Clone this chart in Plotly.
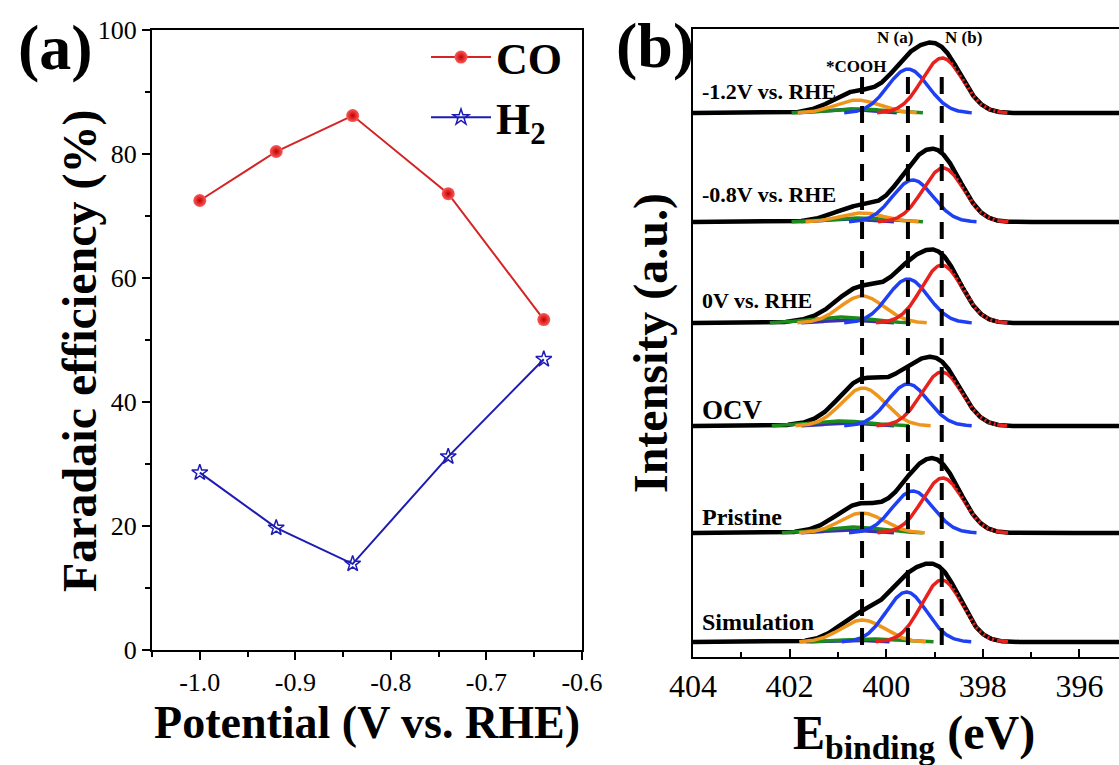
import numpy as np
import plotly.graph_objects as go

# ---------------- Panel (a) data ----------------
potential = [-1.00, -0.92, -0.84, -0.74, -0.64]
fe_co = [72.5, 80.4, 86.2, 73.6, 53.3]
fe_h2 = [28.6, 19.7, 13.9, 31.2, 46.9]

# ---------------- Panel (b) data (fitted XPS N 1s components) ----------------
spectra = ["-1.2V vs. RHE", "-0.8V vs. RHE", "0V vs. RHE", "OCV", "Pristine", "Simulation"]
offsets = [544, 435, 334, 231, 124, 15]
nb_center = [398.84, 398.82, 398.85, 398.85, 398.83, 398.85]
nb_height = [55, 54, 58, 54, 55, 62]
na_center = [399.55, 399.45, 399.55, 399.55, 399.45, 399.58]
na_height = [44, 42, 44, 42, 42, 50]
cooh_center = [400.60, 400.50, 400.50, 400.48, 400.50, 400.49]
cooh_height = [13, 9, 27, 38, 20, 22]
green_center = [400.60, 400.60, 400.95, 400.95, 400.70, 400.30]
green_height = [4, 4, 6, 5, 6, 3]
purple_center = [400.80, 400.80, 400.80, 400.80, 400.80, 400.80]
purple_height = [4, 3, 3, 3, 3, 2]
comp_sigma = {"nb": 0.42, "na": 0.42, "cooh": 0.45, "green": 0.60, "purple": 0.45}
guide_energies = [400.5, 399.55, 398.85]
energy_ticks = [404, 402, 400, 398, 396]

FONT = "Liberation Serif"
comp_colors = {"purple": "#3a2fb0", "green": "#1d8a1d", "cooh": "#f0951c",
               "na": "#1f3ff2", "nb": "#e8211d"}

fig = go.Figure()

# Panel (a)
fig.add_trace(go.Scatter(
    x=potential, y=fe_co, mode="lines+markers", name="<b>CO</b>",
    line=dict(color="#d42424", width=2),
    marker=dict(symbol="circle", size=13, color="#ff5a5a",
                gradient=dict(type="radial", color="#c00000"),
                line=dict(width=0)),
    xaxis="x", yaxis="y"))
fig.add_trace(go.Scatter(
    x=potential, y=fe_h2, mode="lines+markers", name="<b>H<sub>2</sub></b>",
    line=dict(color="#1c1cb4", width=2),
    marker=dict(symbol="star-open", size=12, color="#1c1cb4", line=dict(width=1.5)),
    xaxis="x", yaxis="y"))

# Panel (b)
E = np.linspace(404, 394, 1001)

def gauss(c, h, s):
    return h * np.exp(-0.5 * ((E - c) / s) ** 2)

for i, name in enumerate(spectra):
    base = offsets[i]
    comps = {
        "purple": gauss(purple_center[i], purple_height[i], comp_sigma["purple"]),
        "green": gauss(green_center[i], green_height[i], comp_sigma["green"]),
        "cooh": gauss(cooh_center[i], cooh_height[i], comp_sigma["cooh"]),
        "na": gauss(na_center[i], na_height[i], comp_sigma["na"]),
        "nb": gauss(nb_center[i], nb_height[i], comp_sigma["nb"]),
    }
    total = sum(comps.values())
    fig.add_trace(go.Scatter(x=E, y=base + total, mode="lines",
                             line=dict(color="black", width=4.5),
                             showlegend=False, hoverinfo="skip",
                             xaxis="x2", yaxis="y2"))
    for key in ["purple", "green", "cooh", "na", "nb"]:
        c = comps[key]
        yv = np.where(c > 0.3, base + c, np.nan)
        fig.add_trace(go.Scatter(x=E, y=yv, mode="lines",
                                 line=dict(color=comp_colors[key], width=3.5),
                                 showlegend=False, hoverinfo="skip",
                                 xaxis="x2", yaxis="y2"))
    mask = (E <= nb_center[i]) & (E >= 397.7)
    fig.add_trace(go.Scatter(x=E[mask], y=(base + total)[mask], mode="lines",
                             line=dict(color="black", width=3.5, dash="3px,2px"),
                             showlegend=False, hoverinfo="skip",
                             xaxis="x2", yaxis="y2"))

# dashed guide lines
for e in guide_energies:
    fig.add_shape(type="line", xref="x2", yref="y2", x0=e, x1=e, y0=12, y1=587,
                  line=dict(color="black", width=4, dash="17px,12px"), layer="above")

# spectrum labels
label_dy = [21, 27, 23, 16, 16, 20]
label_size = [22, 22, 22, 27, 24, 24]
for i, name in enumerate(spectra):
    fig.add_annotation(x=403.86, y=offsets[i] + label_dy[i], xref="x2", yref="y2",
                       text="<b>%s</b>" % name, showarrow=False, xanchor="left",
                       font=dict(family=FONT, size=label_size[i], color="black"))

for txt, xv, yv in [("*COOH", 400.63, 590), ("N (a)", 399.82, 619), ("N (b)", 398.39, 619)]:
    fig.add_annotation(x=xv, y=yv, xref="x2", yref="y2", text="<b>%s</b>" % txt,
                       showarrow=False, xanchor="center",
                       font=dict(family=FONT, size=17, color="black"))

# panel labels
fig.add_annotation(x=55/1119, y=1-47/765, xref="paper", yref="paper", text="<b>(a)</b>",
                   showarrow=False, xanchor="center", yanchor="middle",
                   font=dict(family=FONT, size=64, color="black"))
fig.add_annotation(x=655/1119, y=1-45/765, xref="paper", yref="paper", text="<b>(b)</b>",
                   showarrow=False, xanchor="center", yanchor="middle",
                   font=dict(family=FONT, size=64, color="black"))

# axis titles placed as annotations for exact placement
fig.add_annotation(x=80/1119, y=1-351/765, xref="paper", yref="paper",
                   text="<b>Faradaic efficiency (%)</b>", textangle=-90,
                   showarrow=False, xanchor="center", yanchor="middle",
                   font=dict(family=FONT, size=48, color="black"))
fig.add_annotation(x=914/1119, y=1-736/765, xref="paper", yref="paper",
                   text="<b>E<sub>binding</sub> (eV)</b>",
                   showarrow=False, xanchor="center", yanchor="middle",
                   font=dict(family=FONT, size=48, color="black"))

axis_common = dict(showline=True, linecolor="black", linewidth=2, showgrid=False,
                   zeroline=False, automargin=False)

fig.update_layout(
    template="none",
    width=1119, height=765,
    margin=dict(l=0, r=0, t=0, b=0),
    paper_bgcolor="white", plot_bgcolor="white",
    font=dict(family=FONT, color="black"),
    xaxis=dict(domain=[152/1119, 582/1119], range=[-1.05, -0.6], mirror=True,
               tickmode="array", tickvals=[-1.0, -0.9, -0.8, -0.7, -0.6],
               ticktext=["-1.0", "-0.9", "-0.8", "-0.7", "-0.6"],
               ticks="outside", ticklen=8, tickwidth=2, tickcolor="black",
               minor=dict(dtick=0.05, tick0=-1.0, ticks="outside", ticklen=5,
                          tickwidth=2, tickcolor="black"),
               tickfont=dict(family=FONT, size=26),
               title=dict(text="<b>Potential (V vs. RHE)</b>",
                          font=dict(family=FONT, size=46), standoff=8),
               anchor="y", **axis_common),
    yaxis=dict(domain=[1-650/765, 1-30/765], range=[0, 100], mirror=True,
               tickvals=[0, 20, 40, 60, 80, 100],
               ticks="outside", ticklen=8, tickwidth=2, tickcolor="black",
               minor=dict(dtick=10, ticks="outside", ticklen=5, tickwidth=2,
                          tickcolor="black"),
               tickfont=dict(family=FONT, size=26),
               anchor="x", **axis_common),
    xaxis2=dict(domain=[693/1119, 1.0], range=[404, 404 - (1119-693)/48.3], mirror=True,
                tickvals=energy_ticks, ticks="inside", ticklen=8, tickwidth=2,
                tickcolor="black",
                minor=dict(dtick=1, tick0=404, ticks="inside", ticklen=5, tickwidth=2,
                           tickcolor="black"),
                tickfont=dict(family=FONT, size=32),
                anchor="y2", **axis_common),
    yaxis2=dict(domain=[1-657/765, 1-29/765], range=[0, 628], mirror=False,
                showticklabels=False, ticks="",
                title=dict(text="<b>Intensity (a.u.)</b>",
                           font=dict(family=FONT, size=48), standoff=8),
                anchor="x2", **axis_common),
    showlegend=True,
    legend=dict(x=426/1119, y=1-22/765, xanchor="left", yanchor="top",
                bgcolor="rgba(0,0,0,0)", font=dict(family=FONT, size=44),
                itemwidth=60, tracegroupgap=0),
)

fig.write_html("out.html")
